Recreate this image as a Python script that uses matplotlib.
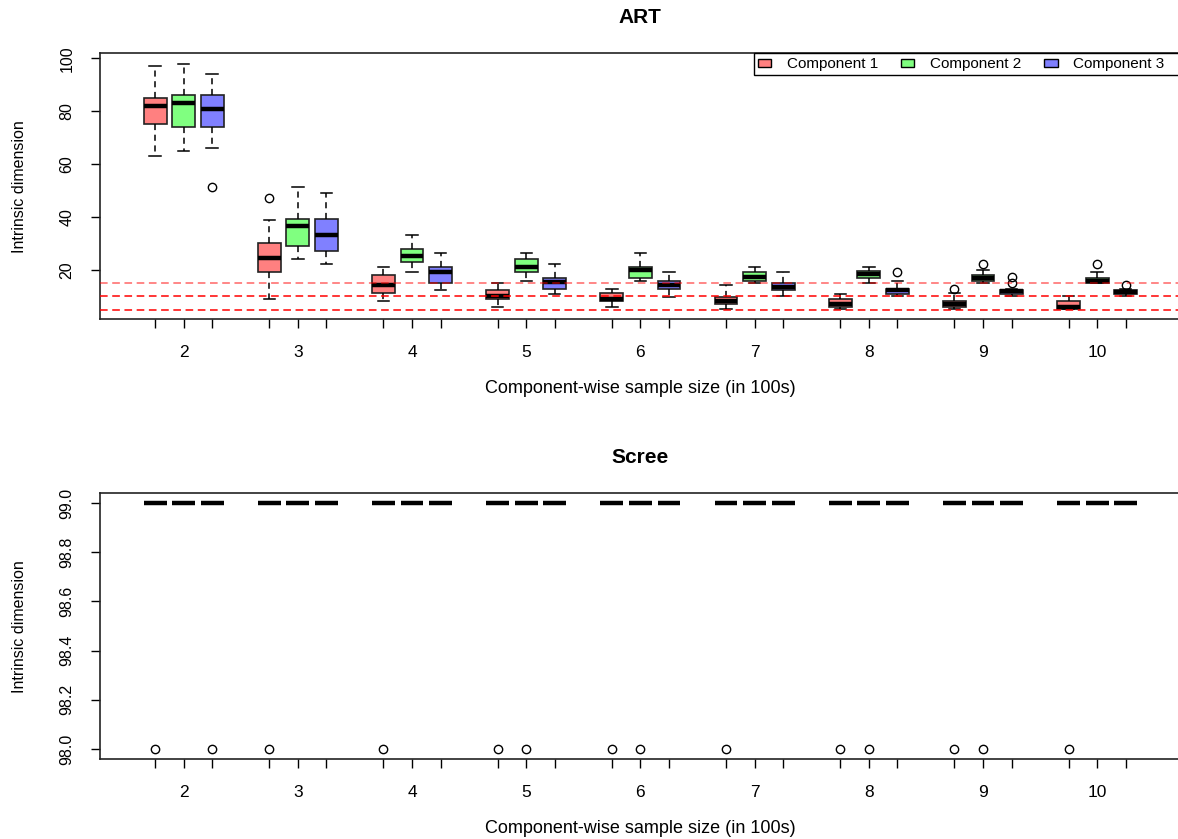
import matplotlib.pyplot as plt
from matplotlib.patches import Patch

plt.rcParams['font.family'] = ['Liberation Sans', 'DejaVu Sans']

groups = [2, 3, 4, 5, 6, 7, 8, 9, 10]
components = ['Component 1', 'Component 2', 'Component 3']
colors = ['#FF8080', '#80FF80', '#8080FF']

# ART box summaries, one list per component (groups 2..10)
art_med = [[82, 24.6, 14.2, 10.0, 8.9, 8.4, 7.1, 7.1, 5.9],
           [83, 36.4, 25.3, 21.1, 20.0, 17.2, 18.4, 16.9, 15.8],
           [81, 33.2, 19.1, 15.3, 14.1, 13.7, 12.2, 11.9, 11.7]]
art_q1 = [[75, 19.2, 11.2, 8.8, 8.2, 7.0, 5.9, 5.9, 5.3],
          [74, 29.1, 23.1, 19.1, 17.0, 15.8, 17.0, 15.8, 15.2],
          [74, 27.1, 15.2, 12.8, 12.9, 12.2, 11.0, 11.0, 11.0]]
art_q3 = [[85, 30.3, 18.1, 12.2, 11.2, 9.9, 8.9, 8.2, 8.2],
          [86, 39.2, 27.9, 24.0, 20.9, 19.1, 19.7, 18.1, 17.1],
          [86, 39.2, 21.0, 17.1, 15.8, 15.0, 12.9, 12.4, 12.2]]
art_lo = [[63, 9.0, 8.2, 5.9, 5.9, 5.3, 5.3, 5.3, 5.3],
          [65, 24.0, 19.2, 15.8, 15.8, 15.2, 15.2, 15.2, 15.2],
          [66, 22.1, 12.2, 11.0, 9.9, 10.0, 10.0, 10.0, 10.0]]
art_hi = [[97, 38.9, 20.9, 15.2, 12.9, 14.1, 11.0, 11.2, 10.0],
          [98, 51.2, 33.1, 26.2, 26.2, 20.9, 20.9, 20.0, 19.1],
          [94, 49.0, 26.2, 22.1, 19.1, 19.1, 15.8, 12.9, 12.9]]
art_out = [[[], [47], [], [], [], [], [], [12.9], []],
           [[], [], [], [], [], [], [], [22.4], [22.1]],
           [[51.4], [], [], [], [], [], [19.1], [15.0, 17.2], [14.1]]]
ref_dims = [15, 10, 5]

# Scree: every box sits at 99, some runs give a 98 outlier
scree_value = 99
scree_outlier = 98
scree_has_out = [[1, 1, 1, 1, 1, 1, 1, 1, 1],
                 [0, 0, 0, 1, 1, 0, 1, 1, 0],
                 [1, 0, 0, 0, 0, 0, 0, 0, 0]]

W, H = 1178, 839
fig = plt.figure(figsize=(W / 100, H / 100), dpi=100)
ax1 = fig.add_axes([100 / W, 1 - 319.3 / H, 1080 / W, 266 / H])
ax2 = fig.add_axes([100 / W, 1 - 759.3 / H, 1080 / W, 266 / H])


def positions(c):
    return [4 * i + c + 1 for i in range(len(groups))]


def draw(ax, stats, c):
    ax.bxp(stats, positions=positions(c), widths=0.8, patch_artist=True,
           manage_ticks=False,
           boxprops=dict(facecolor=colors[c], edgecolor='#222222', lw=1.2),
           medianprops=dict(color='black', lw=3.2, solid_capstyle='butt'),
           whiskerprops=dict(color='black', lw=1.1, ls=(0, (4, 3))),
           capprops=dict(color='black', lw=1.1),
           flierprops=dict(marker='o', mfc='none', mec='black', ms=6, mew=1))


for c in range(3):
    stats = []
    for i in range(len(groups)):
        stats.append(dict(med=art_med[c][i], q1=art_q1[c][i], q3=art_q3[c][i],
                          whislo=art_lo[c][i], whishi=art_hi[c][i],
                          fliers=art_out[c][i]))
    draw(ax1, stats, c)

    stats = []
    for i in range(len(groups)):
        fl = [scree_outlier] if scree_has_out[c][i] else []
        stats.append(dict(med=scree_value, q1=scree_value, q3=scree_value,
                          whislo=scree_value, whishi=scree_value, fliers=fl))
    draw(ax2, stats, c)

for y in ref_dims:
    ax1.axhline(y, color='red', lw=1.1, ls=(0, (5, 3)), zorder=5,
                alpha=0.6 if y == ref_dims[0] else 1)

ax1.set_ylim(1.3, 101.9)
ax1.set_yticks([20, 40, 60, 80, 100])
ax2.set_ylim(97.958, 99.04)
ax2.set_yticks([98.0, 98.2, 98.4, 98.6, 98.8, 99.0])
ax2.set_yticklabels(['98.0', '98.2', '98.4', '98.6', '98.8', '99.0'])

all_pos = sorted(positions(0) + positions(1) + positions(2))
centers = positions(1)
xlabels = [str(groups[centers.index(p)]) if p in centers else '' for p in all_pos]
for ax, title in [(ax1, 'ART'), (ax2, 'Scree')]:
    ax.set_xlim(-0.93, 36.9)
    ax.set_xticks(all_pos, labels=xlabels)
    ax.tick_params(axis='x', length=6.5, width=1, pad=12, labelsize=12.5)
    ax.tick_params(axis='y', length=6.5, width=1, pad=12, labelsize=11.5,
                   labelrotation=90)
    plt.setp(ax.get_yticklabels(), va='center')
    for s in ax.spines.values():
        s.set_linewidth(1.2)
        s.set_color('#222222')
    ax.set_title(title, fontweight='bold', fontsize=15, pad=22)
    ax.set_xlabel('Component-wise sample size (in 100s)', fontsize=13)
    ax.set_ylabel('Intrinsic dimension', fontsize=11.5)
    ax.xaxis.set_label_coords(0.5, -0.228)
    ax.yaxis.set_label_coords(-0.0676, 0.5)

handles = [Patch(facecolor=colors[c], edgecolor='black', lw=1) for c in range(3)]
leg_labels = components[:2] + [components[2] + '    ']
ax1.legend(handles, leg_labels, loc='upper right', ncol=3, fontsize=11,
           bbox_to_anchor=((1185 - 100) / 1080, 1.0), borderaxespad=0,
           borderpad=0.25, fancybox=False, edgecolor='black', framealpha=1,
           handlelength=0.9, handleheight=0.45, handletextpad=1.0,
           columnspacing=1.5)

fig.savefig('out.png', dpi=100)
